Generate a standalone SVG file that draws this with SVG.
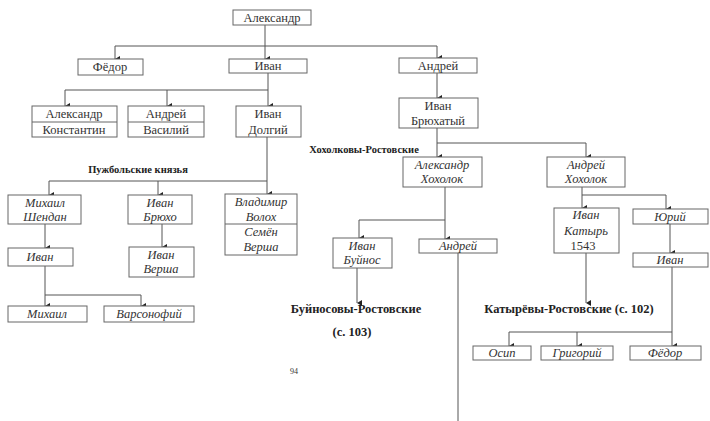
<svg xmlns="http://www.w3.org/2000/svg" width="710" height="421" viewBox="0 0 710 421">
<defs>
<marker id="ar" viewBox="0 0 6 5" refX="3" refY="5" markerWidth="6" markerHeight="5" markerUnits="userSpaceOnUse" orient="auto-start-reverse">
<path d="M0,0 L6,0 L3,5 Z" fill="#222"/>
</marker>
</defs>
<style>
rect{fill:#fff;stroke:#666;stroke-width:1}
.dv{stroke:#666;stroke-width:1}
text{fill:#333;text-anchor:middle}
.i{font-style:italic}
.h{font-weight:bold;fill:#222}
#edges path{fill:none;stroke:#555;stroke-width:1}
.a{marker-end:url(#ar)}
</style>
<rect x="0" y="0" width="710" height="421" style="fill:#fff;stroke:none"/>

<g id="edges">
<path d="M265,25 V46"/>
<path d="M115,46 H437"/>
<path class="a" d="M115,46 V59"/>
<path class="a" d="M265,46 V59"/>
<path class="a" d="M437,46 V58"/>
<path d="M268,73 V90 H65"/>
<path class="a" d="M65,90 V106"/>
<path class="a" d="M167,90 V106"/>
<path class="a" d="M268,90 V106"/>
<path class="a" d="M267,137 V194"/>
<path d="M267,181 H49"/>
<path class="a" d="M49,181 V195"/>
<path class="a" d="M158,181 V195"/>
<path class="a" d="M45,224 V248"/>
<path class="a" d="M45,266 V306"/>
<path d="M45,295 H141"/>
<path class="a" d="M141,295 V306"/>
<path class="a" d="M162,224 V247"/>
<path class="a" d="M437,73 V98"/>
<path class="a" d="M437,128 V157"/>
<path d="M437,143 H586"/>
<path class="a" d="M586,143 V157"/>
<path class="a" d="M445,187 V239"/>
<path d="M445,220 H359"/>
<path class="a" d="M359,220 V238"/>
<path class="a" d="M357,268 V303"/>
<path d="M458,253 V421"/>
<path class="a" d="M582,187 V208"/>
<path d="M582,195 H666"/>
<path class="a" d="M666,195 V209"/>
<path class="a" d="M586,253 V303"/>
<path class="a" d="M670,224 V253"/>
<path class="a" d="M672,267 V346"/>
<path d="M672,332 H509"/>
<path class="a" d="M509,332 V346"/>
<path class="a" d="M577,332 V346"/>
</g>

<g id="n-aleksandr"><rect x="233" y="10" width="78" height="15"/><text font-family="Liberation Serif" font-size="12.5" x="272" y="22">Александр</text></g>
<g id="n-fedor"><rect x="78" y="59" width="65" height="16"/><text font-family="Liberation Serif" font-size="12.5" x="110" y="71">Фёдор</text></g>
<g id="n-ivan"><rect x="229" y="59" width="78" height="14"/><text font-family="Liberation Serif" font-size="12.5" x="268" y="70">Иван</text></g>
<g id="n-andrey"><rect x="399" y="58" width="78" height="15"/><text font-family="Liberation Serif" font-size="12.5" x="438" y="70">Андрей</text></g>

<g id="n-ak"><rect x="32" y="106" width="85" height="31"/><line class="dv" x1="32" y1="122" x2="117" y2="122"/><text font-family="Liberation Serif" font-size="12.5" x="74" y="118">Александр</text><text font-family="Liberation Serif" font-size="12.5" x="74" y="134">Константин</text></g>
<g id="n-av"><rect x="128" y="106" width="76" height="31"/><line class="dv" x1="128" y1="122" x2="204" y2="122"/><text font-family="Liberation Serif" font-size="12.5" x="166" y="118">Андрей</text><text font-family="Liberation Serif" font-size="12.5" x="166" y="134">Василий</text></g>
<g id="n-ivan-dolgiy"><rect x="236" y="106" width="65" height="31"/><text font-family="Liberation Serif" font-size="12.5" x="268" y="118">Иван</text><text font-family="Liberation Serif" font-size="12.5" x="268" y="134">Долгий</text></g>

<g id="n-ivan-bryukhaty"><rect x="399" y="98" width="79" height="30"/><text font-family="Liberation Serif" font-size="12.5" x="438" y="110">Иван</text><text font-family="Liberation Serif" font-size="12.5" x="438" y="125">Брюхатый</text></g>

<text class="h" font-family="Liberation Serif" font-size="10.5" x="364" y="153">Хохолковы-Ростовские</text>
<text class="h" font-family="Liberation Serif" font-size="10.5" x="138" y="173">Пужбольские князья</text>

<g id="n-mikhail-shendan"><rect x="8" y="195" width="73" height="29"/><text class="i" font-family="Liberation Serif" font-size="12.5" x="45" y="207">Михаил</text><text class="i" font-family="Liberation Serif" font-size="12.5" x="45" y="221">Шендан</text></g>
<g id="n-ivan-bryukho"><rect x="128" y="195" width="64" height="29"/><text class="i" font-family="Liberation Serif" font-size="12.5" x="160" y="207">Иван</text><text class="i" font-family="Liberation Serif" font-size="12.5" x="160" y="221">Брюхо</text></g>
<g id="n-vladimir"><rect x="225" y="194" width="72" height="61"/><line class="dv" x1="225" y1="224" x2="297" y2="224"/><text class="i" font-family="Liberation Serif" font-size="12.5" x="261" y="206">Владимир</text><text class="i" font-family="Liberation Serif" font-size="12.5" x="261" y="221">Волох</text><text class="i" font-family="Liberation Serif" font-size="12.5" x="261" y="236">Семён</text><text class="i" font-family="Liberation Serif" font-size="12.5" x="261" y="251">Верша</text></g>
<g id="n-ivan2"><rect x="8" y="248" width="65" height="18"/><text class="i" font-family="Liberation Serif" font-size="12.5" x="40" y="261">Иван</text></g>
<g id="n-ivan-versha"><rect x="129" y="247" width="65" height="30"/><text class="i" font-family="Liberation Serif" font-size="12.5" x="161" y="259">Иван</text><text class="i" font-family="Liberation Serif" font-size="12.5" x="161" y="273">Верша</text></g>
<g id="n-mikhail"><rect x="8" y="306" width="79" height="16"/><text class="i" font-family="Liberation Serif" font-size="12.5" x="47" y="318">Михаил</text></g>
<g id="n-varsonofiy"><rect x="104" y="306" width="90" height="16"/><text class="i" font-family="Liberation Serif" font-size="12.5" x="149" y="318">Варсонофий</text></g>

<g id="n-aleksandr-khokholok"><rect x="403" y="157" width="79" height="30"/><text class="i" font-family="Liberation Serif" font-size="12.5" x="442" y="169">Александр</text><text class="i" font-family="Liberation Serif" font-size="12.5" x="442" y="183">Хохолок</text></g>
<g id="n-andrey-khokholok"><rect x="547" y="157" width="78" height="30"/><text class="i" font-family="Liberation Serif" font-size="12.5" x="586" y="169">Андрей</text><text class="i" font-family="Liberation Serif" font-size="12.5" x="586" y="183">Хохолок</text></g>
<g id="n-ivan-buynos"><rect x="333" y="238" width="59" height="30"/><text class="i" font-family="Liberation Serif" font-size="12.5" x="362" y="250">Иван</text><text class="i" font-family="Liberation Serif" font-size="12.5" x="362" y="264">Буйнос</text></g>
<g id="n-andrey2"><rect x="419" y="239" width="78" height="14"/><text class="i" font-family="Liberation Serif" font-size="12.5" x="458" y="250">Андрей</text></g>
<g id="n-ivan-katyr"><rect x="554" y="208" width="65" height="45"/><text class="i" font-family="Liberation Serif" font-size="12.5" x="586" y="219">Иван</text><text class="i" font-family="Liberation Serif" font-size="12.5" x="586" y="235">Катырь</text><text font-family="Liberation Serif" font-size="12.5" x="583" y="250">1543</text></g>
<g id="n-yuriy"><rect x="633" y="209" width="75" height="15"/><text class="i" font-family="Liberation Serif" font-size="12.5" x="670" y="221">Юрий</text></g>
<g id="n-ivan3"><rect x="633" y="253" width="75" height="14"/><text class="i" font-family="Liberation Serif" font-size="12.5" x="670" y="264">Иван</text></g>

<text class="h" font-family="Liberation Serif" font-size="12.5" x="356" y="313">Буйносовы-Ростовские</text>
<text class="h" font-family="Liberation Serif" font-size="12.5" x="352" y="336">(с. 103)</text>
<text class="h" font-family="Liberation Serif" font-size="12.5" x="569" y="313">Катырёвы-Ростовские (с. 102)</text>

<g id="n-osip"><rect x="473" y="346" width="58" height="14"/><text class="i" font-family="Liberation Serif" font-size="12.5" x="502" y="357">Осип</text></g>
<g id="n-grigoriy"><rect x="541" y="346" width="72" height="14"/><text class="i" font-family="Liberation Serif" font-size="12.5" x="577" y="357">Григорий</text></g>
<g id="n-fedor2"><rect x="630" y="346" width="71" height="14"/><text class="i" font-family="Liberation Serif" font-size="12.5" x="665" y="357">Фёдор</text></g>

<text font-family="Liberation Serif" font-size="8" x="294" y="374">94</text>
</svg>
